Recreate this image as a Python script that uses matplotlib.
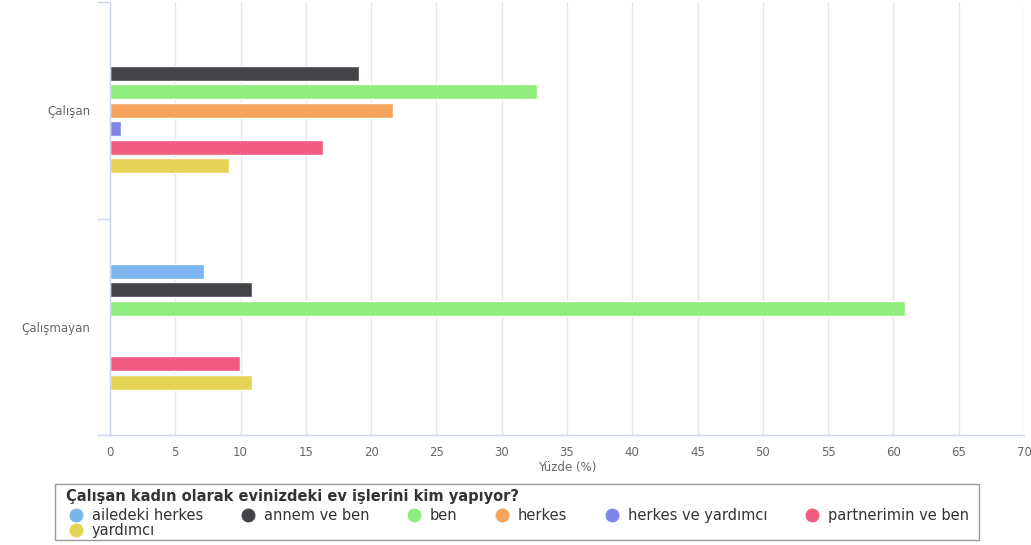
import numpy as np
import matplotlib
matplotlib.use('Agg')
import matplotlib.pyplot as plt
from matplotlib.lines import Line2D
from matplotlib.patches import Rectangle

plt.rcParams['font.family'] = ['DejaVu Sans']

# veriler
kategoriler = ['Çalışan', 'Çalışmayan']
seriler = ['ailedeki herkes', 'annem ve ben', 'ben', 'herkes',
           'herkes ve yardımcı', 'partnerimin ve ben', 'yardımcı']
renkler = ['#7cb5ec', '#434348', '#90ed7d', '#f7a35c',
           '#8085e9', '#f15c80', '#e4d354']
calisan = [0, 19.1, 32.7, 21.7, 0.85, 16.3, 9.1]
calismayan = [7.2, 10.9, 60.9, 0, 0, 9.95, 10.9]
x_ticks = list(range(0, 75, 5))
lejant_baslik = 'Çalışan kadın olarak evinizdeki ev işlerini kim yapıyor?'

eksen_renk = '#ccd6eb'
yazi_renk = '#666666'
W, H = 1031, 545

fig = plt.figure(figsize=(W / 100, H / 100), dpi=100)
ax = fig.add_axes([110 / W, 1 - 435 / H, (1024 - 110) / W, (435 - 2) / H])

# çubuklar (grup genişliği 0.6, nokta dolgusu 0.1)
slot = 0.6 / len(seriler)
yukseklik = slot * 0.8
ypos = np.arange(len(kategoriler))
for i, (ad, renk) in enumerate(zip(seriler, renkler)):
    degerler = [calisan[i], calismayan[i]]
    ofset = (i - (len(seriler) - 1) / 2) * slot
    ax.barh(ypos + ofset, degerler, height=yukseklik, color=renk,
            edgecolor='white', linewidth=1, zorder=3)

ax.set_xlim(0, 70)
ax.set_ylim(1.5, -0.5)
ax.set_xticks(x_ticks)
ax.set_xticklabels([str(t) for t in x_ticks])
ax.set_yticks(ypos)
ax.set_yticklabels(kategoriler)
ax.set_yticks([-0.5, 0.5, 1.5], minor=True)

ax.grid(axis='x', color='#e6e6e6', linewidth=1, zorder=0)
for s in ['top', 'right']:
    ax.spines[s].set_visible(False)
for s in ['left', 'bottom']:
    ax.spines[s].set_color(eksen_renk)
    ax.spines[s].set_linewidth(1)
    ax.spines[s].set_zorder(5)

ax.tick_params(axis='x', length=0, pad=8, labelsize=8.5, labelcolor=yazi_renk)
ax.tick_params(axis='y', which='major', length=0, pad=14, labelsize=8.5, labelcolor=yazi_renk)
ax.tick_params(axis='y', which='minor', length=9.5, width=1, color=eksen_renk)

ax.set_xlabel('Yüzde (%)', fontsize=8.5, color=yazi_renk, labelpad=1)

# lejant (çerçeve ve başlık ayrı çiziliyor)
fig.add_artist(Rectangle((55 / W, 1 - 540 / H), (979 - 55) / W, (540 - 484) / H,
                         transform=fig.transFigure, facecolor='white',
                         edgecolor='#999999', linewidth=1, zorder=1))
fig.text(66 / W, 1 - 497 / H, lejant_baslik, fontsize=10.5, fontweight='bold',
         color='#333333', ha='left', va='center', zorder=2)
tutamaclar = [Line2D([0], [0], marker='o', linestyle='none', markersize=9,
                     markerfacecolor=r, markeredgecolor=r) for r in renkler]
sira = [0, 6, 1, 2, 3, 4, 5]
leg = fig.legend([tutamaclar[i] for i in sira], [seriler[i] for i in sira],
                 loc='upper left', bbox_to_anchor=(70 / W, 1 - 508 / H),
                 borderaxespad=0, ncol=6, fontsize=10.5, frameon=False,
                 handlelength=0.8, handletextpad=0.7,
                 columnspacing=2.65, labelspacing=0.0, borderpad=0)
leg.set_zorder(2)
for t in leg.get_texts():
    t.set_color('#333333')

fig.savefig('out.png', dpi=100)
